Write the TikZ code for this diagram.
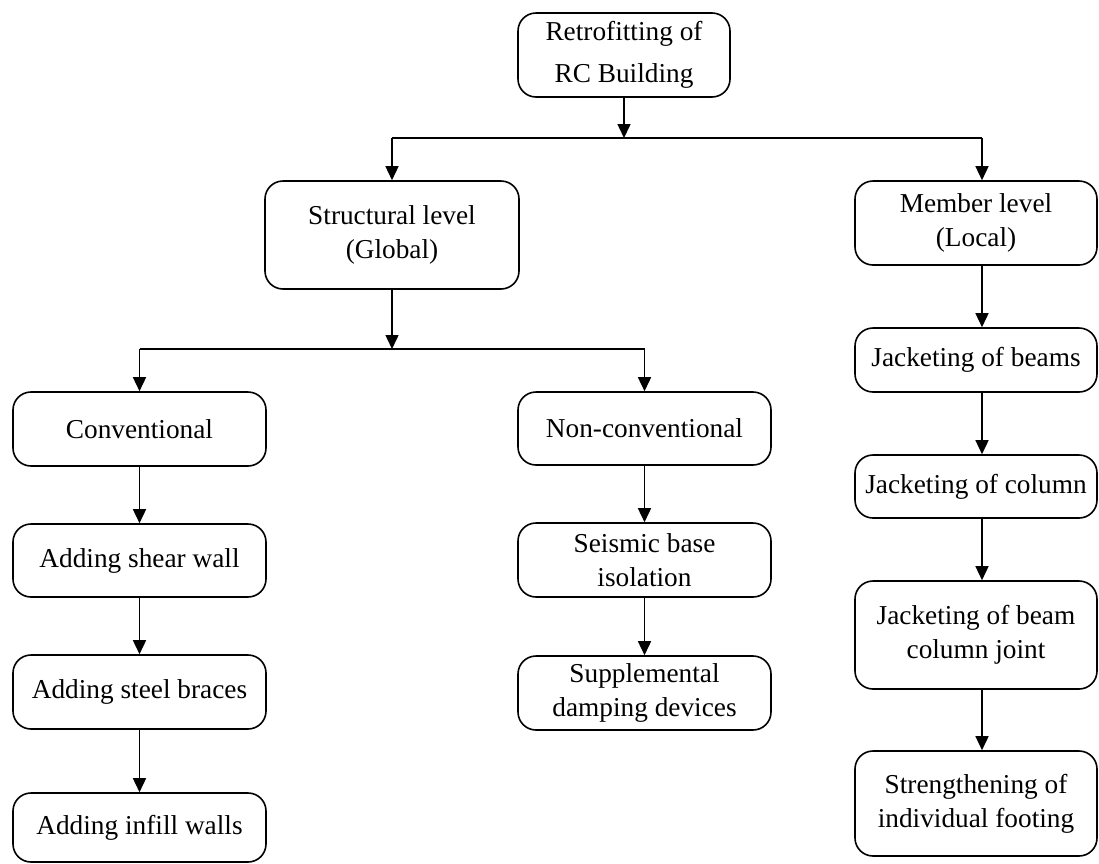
\documentclass[tikz,border=0pt]{standalone}
\usepackage{fontspec}
\setmainfont{Liberation Serif}
\usetikzlibrary{arrows.meta,calc}
\begin{document}
\begin{tikzpicture}[x=1pt,y=-1pt,
  box/.style={draw=black,line width=1.6pt,rounded corners=18pt,inner sep=0pt,
    align=center,font=\fontsize{27.3}{34}\selectfont},
  conn/.style={line width=1.5pt,-{Triangle[length=14pt,width=13pt]}},
  plain/.style={line width=1.5pt}]
\useasboundingbox (0,0) rectangle (1099,863);
% top
\node[box,minimum width=212pt,minimum height=84pt,font=\fontsize{27.3}{42}\selectfont] (top) at (624,55) {Retrofitting of\\RC Building};
% level 1
\node[box,minimum width=254pt,minimum height=108pt] (struct) at (392,235) {Structural level\\(Global)};
\node[box,minimum width=242pt,minimum height=84pt] (member) at (976,223) {Member level\\(Local)};
% level 2
\node[box,minimum width=253pt,minimum height=74pt] (conv) at (139.5,429) {Conventional};
\node[box,minimum width=253pt,minimum height=73pt] (nonconv) at (644.5,428.5) {Non-conventional};
% left column
\node[box,minimum width=253pt,minimum height=73pt] (shear) at (139.5,560.5) {Adding shear wall};
\node[box,minimum width=253pt,minimum height=74pt] (braces) at (139.5,692) {Adding steel braces};
\node[box,minimum width=253pt,minimum height=69pt] (infill) at (139.5,827.5) {Adding infill walls};
% middle column
\node[box,minimum width=253pt,minimum height=74pt] (seismic) at (644.5,560) {Seismic base\\isolation};
\node[box,minimum width=253pt,minimum height=74pt] (supp) at (644.5,693) {Supplemental\\damping devices};
% right column
\node[box,minimum width=242pt,minimum height=64pt] (beams) at (976,360) {Jacketing of beams};
\node[box,minimum width=242pt,minimum height=63pt] (column) at (976,486.5) {Jacketing of column};
\node[box,minimum width=242pt,minimum height=108pt] (joint) at (976,635) {Jacketing of beam\\column joint};
\node[box,minimum width=242pt,minimum height=105pt] (footing) at (976,803.5) {Strengthening of\\individual footing};
% junctions
\coordinate (j1) at (624,138);
\coordinate (j2) at (392,349);
\coordinate (colR) at (982,0);
% connectors
\draw[conn] (top.south) -- (j1);
\draw[plain] (j1 -| struct.north) -- (j1 -| colR);
\draw[conn] (j1 -| struct.north) -- (struct.north);
\draw[conn] (j1 -| colR) -- (member.north -| colR);
\draw[conn] (struct.south) -- (j2);
\draw[plain] (j2 -| conv.north) -- (j2 -| nonconv.north);
\draw[conn] (j2 -| conv.north) -- (conv.north);
\draw[conn] (j2 -| nonconv.north) -- (nonconv.north);
\draw[conn] (conv) -- (shear);
\draw[conn] (shear) -- (braces);
\draw[conn] (braces) -- (infill);
\draw[conn] (nonconv) -- (seismic);
\draw[conn] (seismic) -- (supp);
\draw[conn] (member.south -| colR) -- (beams.north -| colR);
\draw[conn] (beams.south -| colR) -- (column.north -| colR);
\draw[conn] (column.south -| colR) -- (joint.north -| colR);
\draw[conn] (joint.south -| colR) -- (footing.north -| colR);
\end{tikzpicture}
\end{document}
